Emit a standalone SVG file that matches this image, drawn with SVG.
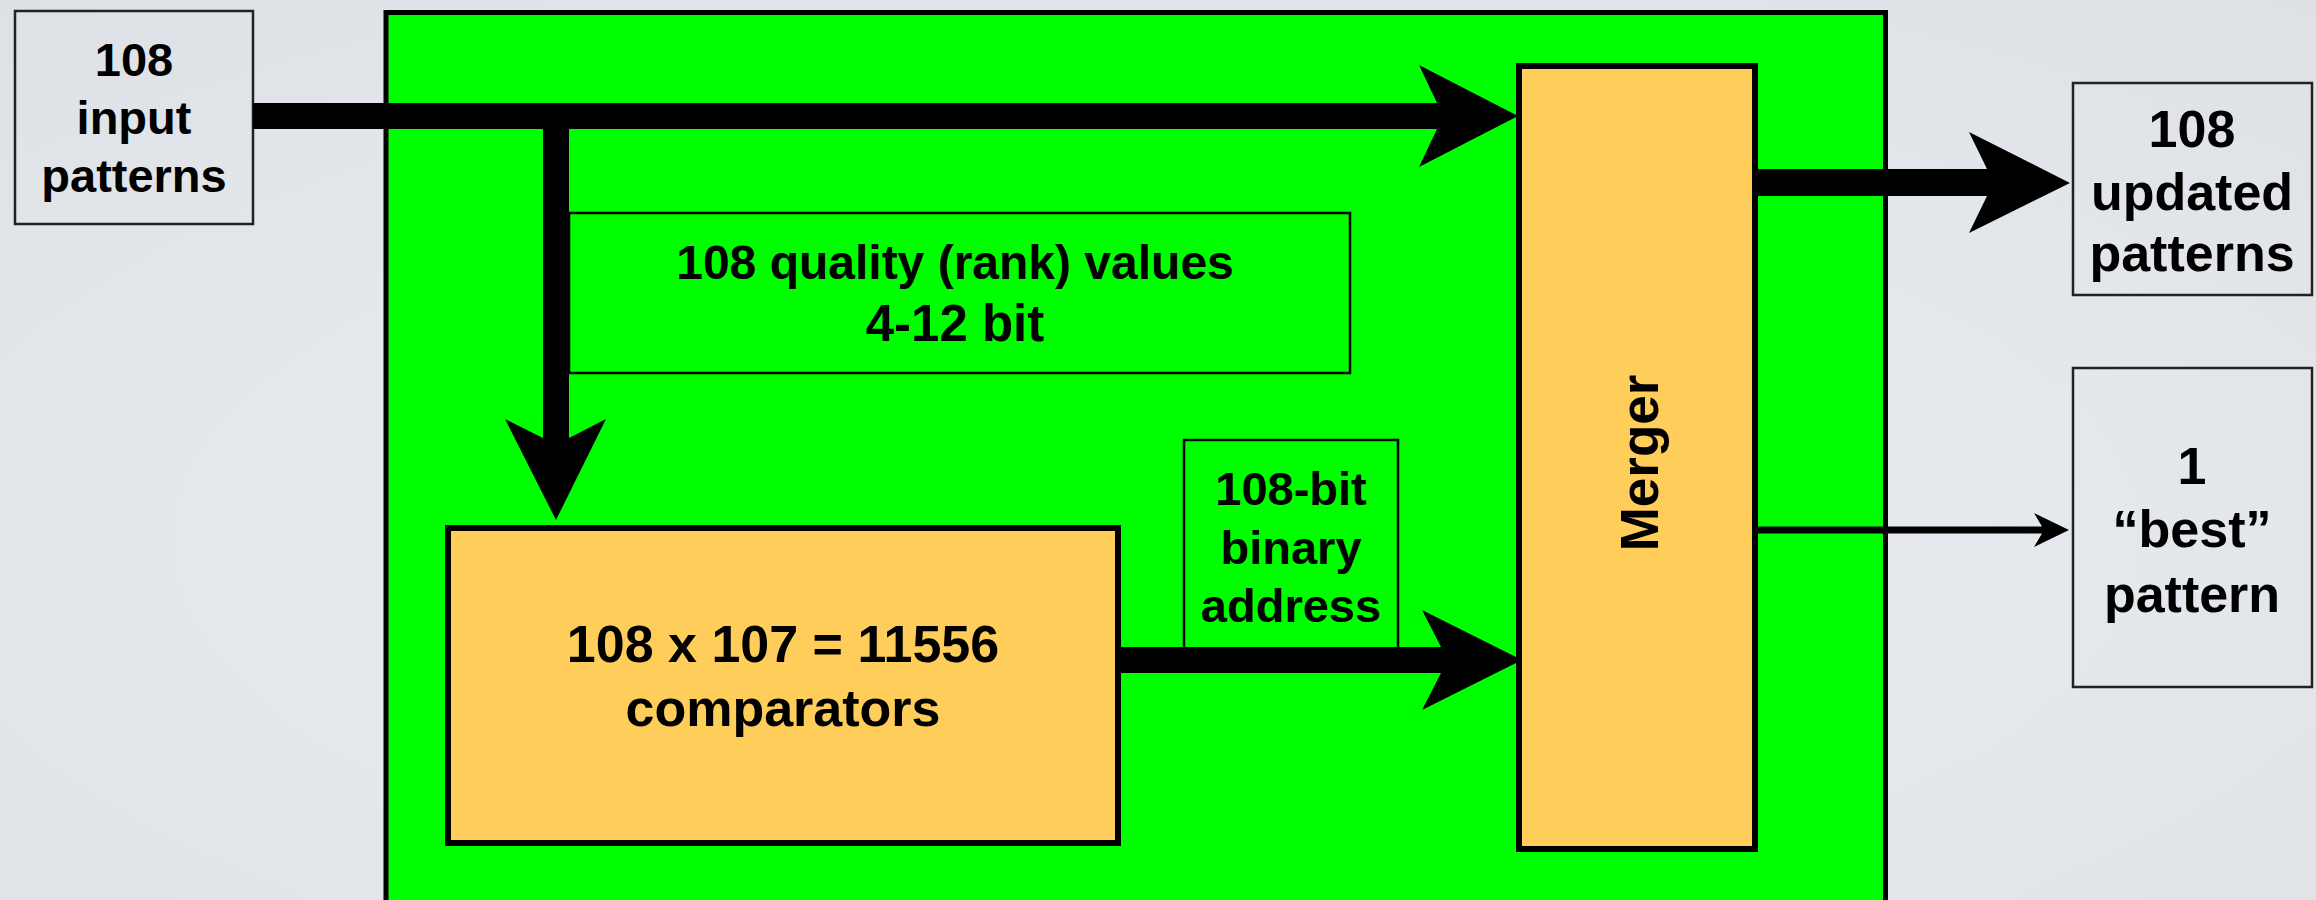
<svg xmlns="http://www.w3.org/2000/svg" width="2316" height="900" viewBox="0 0 2316 900">
  <defs>
    <radialGradient id="bg" cx="0.5" cy="0.6" r="0.8">
      <stop offset="0" stop-color="#eceef1"/>
      <stop offset="1" stop-color="#dde1e6"/>
    </radialGradient>
  </defs>
  <style>
    text { font-family: "Liberation Sans", Arial, Helvetica, sans-serif; font-weight: bold; fill: #000; text-anchor: middle; }
    .io { fill: none; stroke: #222; stroke-width: 2.5; }
    .lbl { fill: none; stroke: #000; stroke-width: 2.5; }
    .blk { fill: #ffcd5a; stroke: #000; stroke-width: 6; }
    .conn { fill: #000; stroke: none; }
  </style>
  <rect x="0" y="0" width="2316" height="900" fill="url(#bg)"/>

  <g id="chip">
    <rect x="386" y="12.5" width="1499.5" height="900" fill="#00ff00" stroke="#000" stroke-width="5"/>
  </g>

  <g id="input-patterns">
    <rect class="io" x="15" y="11" width="238" height="213"/>
    <text x="134" y="76" font-size="47">108</text>
    <text x="134" y="134" font-size="47">input</text>
    <text x="134" y="192" font-size="47">patterns</text>
  </g>

  <g id="quality-values">
    <rect class="lbl" x="569" y="213" width="781" height="160"/>
    <text x="955" y="279" font-size="48">108 quality (rank) values</text>
    <text x="955" y="341" font-size="51">4-12 bit</text>
  </g>

  <g id="binary-address">
    <rect class="lbl" x="1184" y="440" width="214" height="212"/>
    <text x="1291" y="505" font-size="47">108-bit</text>
    <text x="1291" y="564" font-size="47">binary</text>
    <text x="1291" y="622" font-size="47">address</text>
  </g>

  <g id="comparators">
    <rect class="blk" x="448" y="528" width="670" height="315"/>
    <text x="783" y="662" font-size="52">108 x 107 = 11556</text>
    <text x="783" y="726" font-size="52">comparators</text>
  </g>

  <g id="merger">
    <rect class="blk" x="1519" y="66" width="236" height="783"/>
    <text transform="translate(1658,463) rotate(-90)" font-size="53">Merger</text>
  </g>

  <g id="updated-patterns">
    <rect class="io" x="2073" y="83" width="239" height="212"/>
    <text x="2192" y="147" font-size="52">108</text>
    <text x="2192" y="210" font-size="52">updated</text>
    <text x="2192" y="271" font-size="52">patterns</text>
  </g>

  <g id="best-pattern">
    <rect class="io" x="2073" y="368" width="239" height="319"/>
    <text x="2192" y="484" font-size="52">1</text>
    <text x="2192" y="547" font-size="52">“best”</text>
    <text x="2192" y="612" font-size="52">pattern</text>
  </g>

  <g id="connectors">
    <path class="conn" d="M253,103 L1437,103 L1419,65 L1518,116 L1419,167 L1437,129 L253,129 Z"/>
    <path class="conn" d="M543,116 L569,116 L569,438 L606,419 L556,520 L505,419 L543,438 Z"/>
    <path class="conn" d="M1118,647 L1441,647 L1422,610 L1522,660 L1422,710 L1441,673 L1118,673 Z"/>
    <path class="conn" d="M1755,169 L1987,169 L1969,132 L2070,183 L1969,233 L1987,196 L1755,196 Z"/>
    <path class="conn" d="M1755,526.5 L2042,526.5 L2034,513 L2069,530 L2034,547 L2042,533.5 L1755,533.5 Z"/>
  </g>
</svg>
